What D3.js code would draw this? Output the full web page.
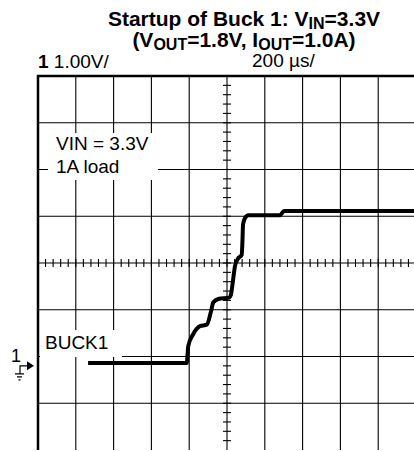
<!DOCTYPE html>
<html>
<head>
<meta charset="utf-8">
<script src="https://cdn.jsdelivr.net/npm/d3@7"></script>
<style>
  html, body { margin: 0; padding: 0; background: #fff; }
  svg { display: block; font-family: "Liberation Sans", Arial, sans-serif; }
</style>
</head>
<body>
<svg id="chart" width="414" height="451"></svg>
<script>
// scope trace: time in µs from left edge, volts on channel 1
const timeUs = [265, 787, 795, 820, 857, 893, 914, 928, 954, 1012, 1020, 1029, 1042, 1056, 1078, 1082, 1085, 1095, 1113, 1280, 1302, 2000];
const buck1V = [0.06, 0.06, 0.42, 0.67, 0.85, 0.88, 1.14, 1.36, 1.43, 1.46, 1.51, 1.74, 2.13, 2.28, 2.38, 2.70, 3.03, 3.16, 3.22, 3.22, 3.31, 3.31];

const timePerDiv = 200   // µs/div
const voltPerDiv = 1     // V/div
const xDivs = 10, yDivs = 8
const gndDiv = -2.2      // channel 1 reference, divisions from centre

const titleLines = [
  [["Startup of Buck 1: V", false], ["IN", true], ["=3.3V", false]],
  [["(V", false], ["OUT", true], ["=1.8V, I", false], ["OUT", true], ["=1.0A)", false]]
]
const notes = ["VIN = 3.3V", "1A load"]

const svg = d3.select("#chart")
const plotL = 38, plotT = 76, plotR = 416, plotB = 450

const x = d3.scaleLinear().domain([0, timePerDiv * xDivs]).range([plotL, plotR])
const vMin = (-yDivs / 2 - gndDiv) * voltPerDiv
const y = d3.scaleLinear().domain([vMin, vMin + yDivs * voltPerDiv]).range([plotB, plotT])
const xMid = x(timePerDiv * xDivs / 2)
const yMid = y(vMin + yDivs / 2 * voltPerDiv)

// grid
const grid = svg.append("g").attr("stroke", "#000").attr("stroke-width", 1.1)
grid.selectAll("line.v").data(d3.range(1, xDivs)).join("line")
  .attr("x1", d => x(d * timePerDiv)).attr("x2", d => x(d * timePerDiv))
  .attr("y1", plotT).attr("y2", plotB)
grid.selectAll("line.h").data(d3.range(1, yDivs)).join("line")
  .attr("x1", plotL).attr("x2", plotR)
  .attr("y1", d => y(vMin + d * voltPerDiv)).attr("y2", d => y(vMin + d * voltPerDiv))

// minor ticks on centre axes
const ticks = svg.append("g").attr("stroke", "#000").attr("stroke-width", 1.1)
ticks.selectAll("line.xt").data(d3.range(1, xDivs * 5)).join("line")
  .attr("x1", d => x(d * timePerDiv / 5)).attr("x2", d => x(d * timePerDiv / 5))
  .attr("y1", yMid - 4).attr("y2", yMid + 4)
ticks.selectAll("line.yt").data(d3.range(1, yDivs * 5)).join("line")
  .attr("x1", xMid - 4).attr("x2", xMid + 4)
  .attr("y1", d => y(vMin + d * voltPerDiv / 5)).attr("y2", d => y(vMin + d * voltPerDiv / 5))

// white label boxes knock out the grid
svg.append("rect").attr("x", 48).attr("y", 133).attr("width", 110).attr("height", 47).attr("fill", "#fff")
svg.append("rect").attr("x", 40).attr("y", 330).attr("width", 82).attr("height", 27).attr("fill", "#fff")

// border
svg.append("path")
  .attr("d", `M${plotL},${plotB}V${plotT}H${plotR}`)
  .attr("fill", "none").attr("stroke", "#000").attr("stroke-width", 2.5)

// trace
const pts = timeUs.map((t, i) => [t, buck1V[i]])
svg.append("path")
  .datum(pts)
  .attr("fill", "none").attr("stroke", "#000").attr("stroke-width", 4)
  .attr("stroke-linejoin", "round")
  .attr("d", d3.line().x(d => x(d[0])).y(d => y(d[1])).curve(d3.curveMonotoneX))

// notes
svg.selectAll("text.note").data(notes).join("text")
  .attr("x", 56).attr("y", (d, i) => 150 + i * 23)
  .attr("font-size", 19).text(d => d)
svg.append("text").attr("x", 45).attr("y", 349).attr("font-size", 19).text("BUCK1")

// title
titleLines.forEach((parts, i) => {
  const t = svg.append("text")
    .attr("x", 244).attr("y", 26 + i * 21)
    .attr("text-anchor", "middle").attr("font-size", 21).attr("font-weight", "bold")
  parts.forEach(([s, sub], j) => {
    t.append("tspan").text(s)
      .attr("font-size", sub ? 16 : null)
      .attr("dy", sub ? 3 : (j === 0 ? null : -3))
  })
})

// channel scale labels
const ch = svg.append("text").attr("x", plotL).attr("y", 68).attr("font-size", 19)
ch.append("tspan").attr("font-weight", "bold").text("1")
ch.append("tspan").text(" 1.00V/")
svg.append("text").attr("x", 252).attr("y", 67).attr("font-size", 19).text("200 µs/")

// channel 1 ground marker
const g0 = y(0)
svg.append("text").attr("x", 11).attr("y", g0 - 4).attr("font-size", 18).text("1")
svg.append("path")
  .attr("d", `M20,${g0 + 8}V${g0}H28 M15,${g0 + 8}H24 M17,${g0 + 11}H22 M18.5,${g0 + 14}H20.5`)
  .attr("fill", "none").attr("stroke", "#000").attr("stroke-width", 1.2)
svg.append("path")
  .attr("d", `M27,${g0 - 4.5}L34,${g0}L27,${g0 + 4.5}Z`)
  .attr("fill", "#000")
</script>
</body>
</html>
